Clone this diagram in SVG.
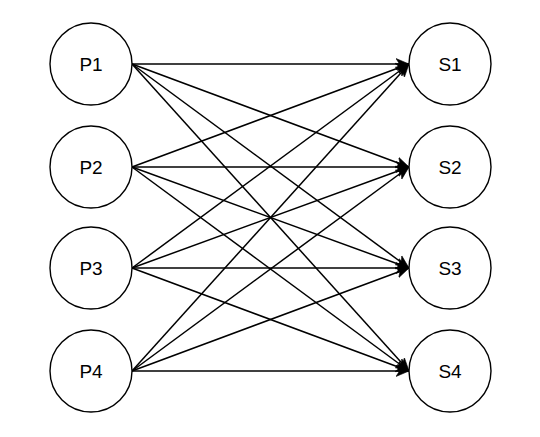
<svg xmlns="http://www.w3.org/2000/svg" width="540" height="437" viewBox="0 0 540 437">
<style>
.node circle{fill:#fff;stroke:#000;stroke-width:1.4}
.node text{font-family:"Liberation Sans",Arial,sans-serif;font-size:19px;text-anchor:middle;fill:#000}
.edges line{stroke:#000;stroke-width:1.5;fill:none}
</style>
<defs>
<marker id="arr" markerUnits="userSpaceOnUse" markerWidth="16" markerHeight="14" refX="13" refY="5.5" orient="auto" viewBox="0 0 16 11">
<path d="M0,0 L13,5.5 L0,11 L3.5,5.5 Z" fill="#000" stroke="#000" stroke-width="0.6"/>
</marker>
</defs>
<rect width="540" height="437" fill="#fff"/>
<g class="edges">
<line x1="132" y1="64" x2="409" y2="64" marker-end="url(#arr)"/>
<line x1="132" y1="64" x2="409" y2="167" marker-end="url(#arr)"/>
<line x1="132" y1="64" x2="409" y2="268" marker-end="url(#arr)"/>
<line x1="132" y1="64" x2="409" y2="371" marker-end="url(#arr)"/>
<line x1="132" y1="167" x2="409" y2="64" marker-end="url(#arr)"/>
<line x1="132" y1="167" x2="409" y2="167" marker-end="url(#arr)"/>
<line x1="132" y1="167" x2="409" y2="268" marker-end="url(#arr)"/>
<line x1="132" y1="167" x2="409" y2="371" marker-end="url(#arr)"/>
<line x1="132" y1="268" x2="409" y2="64" marker-end="url(#arr)"/>
<line x1="132" y1="268" x2="409" y2="167" marker-end="url(#arr)"/>
<line x1="132" y1="268" x2="409" y2="268" marker-end="url(#arr)"/>
<line x1="132" y1="268" x2="409" y2="371" marker-end="url(#arr)"/>
<line x1="132" y1="371" x2="409" y2="64" marker-end="url(#arr)"/>
<line x1="132" y1="371" x2="409" y2="167" marker-end="url(#arr)"/>
<line x1="132" y1="371" x2="409" y2="268" marker-end="url(#arr)"/>
<line x1="132" y1="371" x2="409" y2="371" marker-end="url(#arr)"/>
</g>
<g id="P1" class="node"><circle cx="91" cy="64" r="41"/><text x="91" y="70.5">P1</text></g>
<g id="P2" class="node"><circle cx="91" cy="167" r="41"/><text x="91" y="173.5">P2</text></g>
<g id="P3" class="node"><circle cx="91" cy="268" r="41"/><text x="91" y="274.5">P3</text></g>
<g id="P4" class="node"><circle cx="91" cy="371" r="41"/><text x="91" y="377.5">P4</text></g>
<g id="S1" class="node"><circle cx="450" cy="64" r="41"/><text x="450" y="70.5">S1</text></g>
<g id="S2" class="node"><circle cx="450" cy="167" r="41"/><text x="450" y="173.5">S2</text></g>
<g id="S3" class="node"><circle cx="450" cy="268" r="41"/><text x="450" y="274.5">S3</text></g>
<g id="S4" class="node"><circle cx="450" cy="371" r="41"/><text x="450" y="377.5">S4</text></g>
</svg>
